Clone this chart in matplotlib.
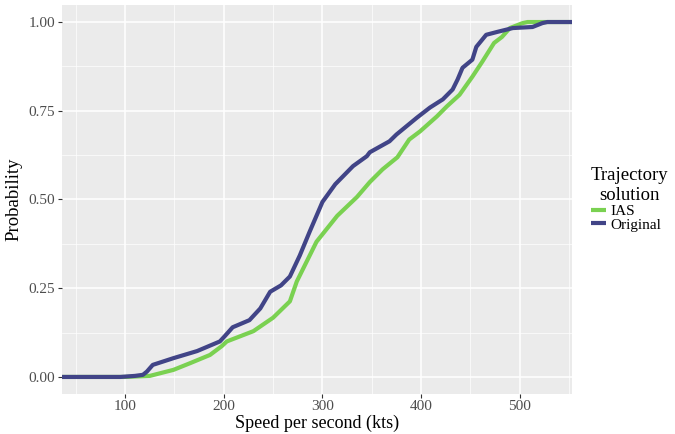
import numpy as np
import matplotlib
matplotlib.use("Agg")
import matplotlib.pyplot as plt
from matplotlib.ticker import MultipleLocator

# ECDF curves (speed in kts, cumulative probability)
orig_speed = [36, 95, 110, 118, 122, 128, 149, 173, 196, 201, 209, 226, 237, 247,
              258, 267, 277, 287, 300, 313, 325, 331, 345, 348, 368, 375, 396, 409,
              422, 432, 437, 442, 452, 456, 466, 477, 493, 513, 523, 528, 553]
orig_prob = [0, 0, 0.003, 0.006, 0.015, 0.034, 0.053, 0.073, 0.100, 0.115, 0.140,
             0.160, 0.193, 0.240, 0.258, 0.283, 0.342, 0.409, 0.493, 0.543, 0.577,
             0.594, 0.622, 0.633, 0.664, 0.683, 0.731, 0.759, 0.782, 0.810, 0.838,
             0.871, 0.894, 0.930, 0.964, 0.972, 0.983, 0.986, 0.997, 1.0, 1.0]

ias_speed = [36, 100, 125, 149, 166, 186, 198, 203, 230, 250, 267, 274, 294, 315,
             335, 348, 361, 376, 388, 399, 416, 426, 439, 452, 462, 474, 482, 490,
             503, 508, 553]
ias_prob = [0, 0, 0.003, 0.020, 0.039, 0.062, 0.087, 0.100, 0.129, 0.167, 0.213,
            0.269, 0.381, 0.454, 0.507, 0.549, 0.585, 0.619, 0.669, 0.692, 0.734,
            0.762, 0.795, 0.846, 0.888, 0.941, 0.958, 0.983, 0.997, 1.0, 1.0]

series_names = ["IAS", "Original"]
series_colors = ["#7AD151", "#414487"]

plt.rcParams["font.family"] = ["Liberation Serif", "DejaVu Serif"]

fig = plt.figure(figsize=(6.75, 4.34), dpi=100)
ax = fig.add_axes([0.0919, 0.0922, 0.7555, 0.8963])
ax.set_facecolor("#EBEBEB")

ax.plot(ias_speed, ias_prob, color=series_colors[0], lw=3.0, label=series_names[0],
        solid_capstyle="butt", zorder=3)
ax.plot(orig_speed, orig_prob, color=series_colors[1], lw=3.0, label=series_names[1],
        solid_capstyle="butt", zorder=3)

ax.set_xlim(36, 553)
ax.set_ylim(-0.048, 1.048)
ax.xaxis.set_major_locator(MultipleLocator(100))
ax.xaxis.set_minor_locator(MultipleLocator(50))
ax.yaxis.set_major_locator(MultipleLocator(0.25))
ax.yaxis.set_minor_locator(MultipleLocator(0.125))
ax.yaxis.set_major_formatter(lambda v, p: f"{v:.2f}")

ax.grid(which="major", color="white", lw=1.1, zorder=0)
ax.grid(which="minor", color="white", lw=0.5, zorder=0)
ax.set_axisbelow(True)
for s in ax.spines.values():
    s.set_visible(False)
ax.tick_params(which="major", length=3, color="#333333", labelcolor="#4D4D4D",
               labelsize=11, pad=2)
ax.tick_params(axis="x", pad=1)
ax.tick_params(which="minor", length=0)

ax.set_xlabel("Speed per second (kts)", fontsize=13)
ax.xaxis.set_label_coords(0.5, -0.052)
ax.set_ylabel("Probability", fontsize=13.5, labelpad=4)

leg = ax.legend(title="Trajectory\nsolution", loc="center left",
                bbox_to_anchor=(1.01, 0.5), frameon=False, fontsize=11,
                title_fontsize=13.5, handlelength=1.0, handletextpad=0.3,
                labelspacing=0.0, borderaxespad=0.5)
leg._legend_box.align = "left"
leg.get_title().set_multialignment("center")
leg.get_title().set_linespacing(1.25)
for h in leg.legend_handles:
    h.set_linewidth(3.0)

fig.savefig("out.png", dpi=100)
